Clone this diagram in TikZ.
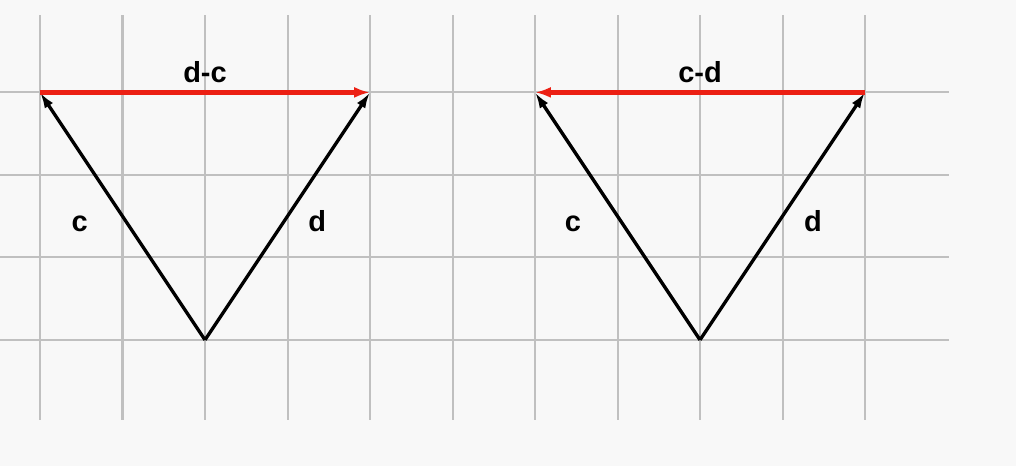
\documentclass[tikz,border=0pt]{standalone}
\usepackage{fontspec}
\setmainfont{Liberation Sans}
\usetikzlibrary{arrows.meta}
\definecolor{gridgray}{RGB}{192,192,192}
\definecolor{bggray}{RGB}{248,248,248}
\definecolor{vecred}{RGB}{236,32,20}

\begin{document}
\begin{tikzpicture}[
	vec/.style={line width=1.15pt,-{Latex[length=5.5pt,width=3.4pt]}},
	diff/.style={vecred,line width=1.8pt,-{Latex[length=5.5pt,width=3.8pt]}},
	lbl/.style={anchor=base,font=\bfseries\fontsize{10}{12}\selectfont}]
	\fill[bggray] (-0.485,-1.53) rectangle (11.83,4.12);
	\useasboundingbox (-0.485,-1.53) rectangle (11.83,4.12);
	% grid
	\foreach \x in {0,...,10}
		\draw[gridgray, line width=0.7pt] (\x,-0.97) -- (\x,3.94);
	\foreach \y in {0,...,3}
		\draw[gridgray, line width=0.7pt] (-0.485,\y) -- (11.02,\y);
	% left: d-c
	\coordinate (oL) at (2,0);
	\coordinate (cL) at (0,3);
	\coordinate (dL) at (4,3);
	\draw[vec] (oL) -- (cL);
	\draw[vec] (oL) -- (dL);
	\draw[diff] (cL) -- (dL);
	\node[lbl] (labcL) at (0.48,1.31) {c};
	\node[lbl] (labdL) at (3.36,1.31) {d};
	\node[lbl] (labdc) at (2,3.12) {d-c};
	% right: c-d
	\coordinate (oR) at (8,0);
	\coordinate (cR) at (6,3);
	\coordinate (dR) at (10,3);
	\draw[vec] (oR) -- (cR);
	\draw[vec] (oR) -- (dR);
	\draw[diff] (dR) -- (cR);
	\node[lbl] (labcR) at (6.46,1.31) {c};
	\node[lbl] (labdR) at (9.37,1.31) {d};
	\node[lbl] (labcd) at (8,3.12) {c-d};
\end{tikzpicture}
\end{document}
